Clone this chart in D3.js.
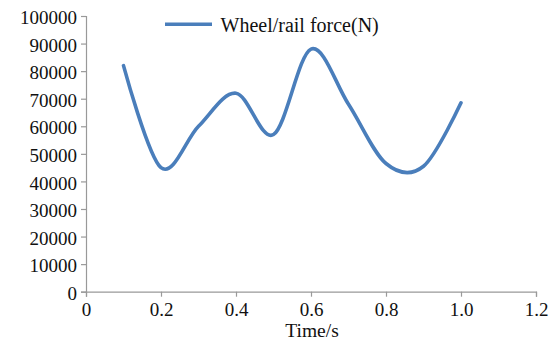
<!DOCTYPE html>
<html>
<head>
<meta charset="utf-8">
<script src="https://cdn.jsdelivr.net/npm/d3@7"></script>
<style>
  html, body { margin: 0; padding: 0; background: #fff; }
  svg { display: block; }
  text { font-family: "Liberation Serif", "Times New Roman", serif; fill: #111; }
</style>
</head>
<body>
<svg id="chart" width="557" height="342"></svg>
<script>
// Wheel/rail force over time
const times = [0.1, 0.2, 0.3, 0.4, 0.5, 0.6, 0.7, 0.8, 0.9, 1.0];
const forces = [82000, 45000, 60000, 72000, 57000, 88000, 68000, 46500, 45500, 68500];
const xTicks = [0, 0.2, 0.4, 0.6, 0.8, 1.0, 1.2];
const xTickLabels = ["0", "0.2", "0.4", "0.6", "0.8", "1.0", "1.2"];
const yTicks = [0, 10000, 20000, 30000, 40000, 50000, 60000, 70000, 80000, 90000, 100000];
const seriesName = "Wheel/rail force(N)";
const xTitle = "Time/s";

const svg = d3.select("#chart");
const margin = { left: 86, right: 21, top: 16, bottom: 50.3 };
const W = 557, H = 342;

const x = d3.scaleLinear().domain([0, 1.2]).range([margin.left, W - margin.right]);
const y = d3.scaleLinear().domain([0, 100000]).range([H - margin.bottom, margin.top]);

const axisColor = "#999";

// Y axis
const yAxis = svg.append("g")
  .attr("transform", `translate(${margin.left},0)`)
  .call(d3.axisLeft(y).tickValues(yTicks).tickSize(5).tickPadding(4).tickFormat(d3.format("d")));
yAxis.selectAll("path, line").attr("stroke", axisColor).attr("stroke-width", 1.2);
yAxis.selectAll("text").style("font-size", "19px").attr("fill", "#111").attr("dy", "0.4em");

// X axis
const xAxis = svg.append("g")
  .attr("transform", `translate(0,${H - margin.bottom})`)
  .call(d3.axisBottom(x).tickValues(xTicks).tickSize(5).tickPadding(5.5)
    .tickFormat((d, i) => xTickLabels[i]));
xAxis.selectAll("path, line").attr("stroke", axisColor).attr("stroke-width", 1.2);
xAxis.selectAll("text").style("font-size", "19px").attr("fill", "#111");

// X axis title
svg.append("text")
  .attr("x", x(0.6) + 1)
  .attr("y", 336.5)
  .attr("text-anchor", "middle")
  .style("font-size", "19.5px")
  .text(xTitle);

// Smoothed series line
const line = d3.line()
  .x((d, i) => x(times[i]))
  .y(d => y(d))
  .curve(d3.curveCatmullRom.alpha(0));

svg.append("path")
  .datum(forces)
  .attr("d", line)
  .attr("fill", "none")
  .attr("stroke", "#4a7ebb")
  .attr("stroke-width", 3.6)
  .attr("stroke-linecap", "round")
  .attr("stroke-linejoin", "round");

// Legend
const lg = svg.append("g").attr("transform", "translate(165,24.3)");
lg.append("line")
  .attr("x1", 0).attr("x2", 47).attr("y1", 0).attr("y2", 0)
  .attr("stroke", "#4a7ebb").attr("stroke-width", 3.6);
lg.append("text")
  .attr("x", 55.5).attr("y", 7.2)
  .style("font-size", "20px")
  .text(seriesName);
</script>
</body>
</html>
